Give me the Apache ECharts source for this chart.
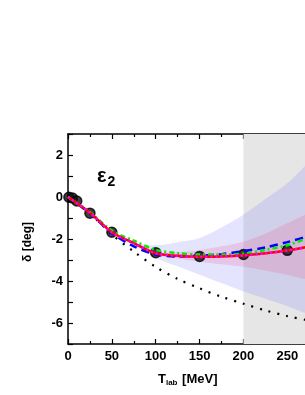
<!DOCTYPE html>
<html><head><meta charset="utf-8">
<script src="https://cdn.jsdelivr.net/npm/echarts@6/dist/echarts.min.js"></script>
<style>html,body{margin:0;padding:0;background:#fff;overflow:hidden}#c{width:345px;height:395px}</style>
</head><body><div id="c"></div>
<script>
// ---- data ----
const xGrid = [0, 25, 50, 75, 100, 125, 150, 175, 200, 225, 250, 275, 300];
const redSolid   = [0, -0.75, -1.68, -2.2, -2.68, -2.8, -2.84, -2.83, -2.78, -2.68, -2.55, -2.36, -2.15];
const magDotted  = [0, -0.75, -1.68, -2.2, -2.68, -2.8, -2.84, -2.83, -2.78, -2.68, -2.55, -2.36, -2.15];
const blueDashed = [0, -0.78, -1.72, -2.35, -2.74, -2.83, -2.8, -2.72, -2.58, -2.4, -2.15, -1.85, -1.5];
const greenDash  = [0, -0.72, -1.6, -2.08, -2.52, -2.67, -2.74, -2.74, -2.7, -2.52, -2.3, -1.92, -1.5];
const blackDot   = [0, -0.78, -1.78, -2.6, -3.33, -3.9, -4.35, -4.75, -5.08, -5.4, -5.67, -5.88, -6.05];
const blueBandLow  = [0, -0.78, -1.72, -2.3, -2.9, -3.3, -3.7, -4.1, -4.5, -4.85, -5.2, -5.6, -6.0];
const blueBandHigh = [0, -0.76, -1.66, -2.15, -2.3, -2.15, -1.95, -1.45, -0.85, -0.1, 0.65, 1.7, 2.9];
const pinkBandLow  = [0, -0.75, -1.68, -2.22, -2.75, -2.93, -3.08, -3.2, -3.32, -3.5, -3.71, -3.95, -4.2];
const pinkBandHigh = [0, -0.75, -1.68, -2.18, -2.62, -2.62, -2.52, -2.35, -2.13, -1.75, -1.25, -0.75, -0.2];
const pwaX = [1, 5, 10, 25, 50, 100, 150, 200, 250];
const pwaY = [-0.01, -0.05, -0.19, -0.77, -1.68, -2.65, -2.83, -2.74, -2.54];
const xTicks = [0, 50, 100, 150, 200, 250, 300];
const yTicks = [-6, -4, -2, 0, 2];
const shadeFrom = 200, shadeTo = 300;

const pairs = (ys) => xGrid.map((x, i) => [x, ys[i]]);
const F = '"Liberation Sans", Arial, sans-serif';

function bandSeries(lo, hi, color, z) {
  return {
    type: 'custom', z: z, silent: true, data: [[xGrid[0], lo[0]]],
    renderItem: (params, api) => {
      const top = xGrid.map((x, i) => api.coord([x, hi[i]]));
      const bot = xGrid.map((x, i) => api.coord([x, lo[i]])).reverse();
      return {type: 'polygon', shape: {points: top.concat(bot), smooth: 0.3}, style: {fill: color}};
    }
  };
}

const chart = echarts.init(document.getElementById('c'), null, {renderer: 'canvas'});
const axisCommon = {
  type: 'value',
  axisLine: {show: true, onZero: false, lineStyle: {color: '#000', width: 1.5}},
  axisTick: {show: true, inside: true, length: 5, lineStyle: {color: '#000', width: 1.2}},
  minorTick: {show: true, splitNumber: 2, length: 3, lineStyle: {color: '#000', width: 1.2}},
  splitLine: {show: false},
};
chart.setOption({
  animation: false,
  grid: {left: 68, top: 134, width: 264, height: 210, containLabel: false},
  xAxis: [
    Object.assign({}, axisCommon, {
      position: 'bottom', min: xTicks[0], max: xTicks[xTicks.length - 1], interval: 50,
      axisLabel: {color: '#000', fontFamily: F, fontWeight: 'bold', fontSize: 13, margin: 6,
        formatter: v => xTicks.includes(v) ? String(v) : ''}
    }),
    Object.assign({}, axisCommon, {
      position: 'top', min: xTicks[0], max: xTicks[xTicks.length - 1], interval: 50,
      axisLabel: {show: false}
    })
  ],
  yAxis: [
    Object.assign({}, axisCommon, {
      min: -7, max: 3, interval: 1,
      minorTick: {show: false},
      axisLabel: {color: '#000', fontFamily: F, fontWeight: 'bold', fontSize: 13, margin: 5,
        formatter: v => yTicks.includes(v) ? String(v) : ''},
    })
  ],
  graphic: [
    {type: 'text', left: 97, top: 166, z: 100, style: {
      text: '{e|ε}{s|2}', fill: '#000',
      rich: {e: {fontFamily: F, fontWeight: 'bold', fontSize: 20, fill: '#000'},
             s: {fontFamily: F, fontWeight: 'bold', fontSize: 14, fill: '#000', padding: [12, 0, 0, 1]}}
    }},
    {type: 'text', x: 158, y: 371, z: 100, style: {
      text: '{t|T}{s|lab}{t| [MeV]}', fill: '#000',
      rich: {t: {fontFamily: F, fontWeight: 'bold', fontSize: 13, fill: '#000'},
             s: {fontFamily: F, fontWeight: 'bold', fontSize: 8, fill: '#000', padding: [8, 1, 0, 0]}}
    }},
    {type: 'text', x: 28, y: 242, rotation: Math.PI / 2, z: 100, style: {
      text: 'δ [deg]', fill: '#000', fontFamily: F, fontWeight: 'bold', fontSize: 12,
      align: 'center', verticalAlign: 'middle'
    }}
  ],
  series: [
    {type: 'line', z: 1, data: [], symbol: 'none', silent: true,
     markArea: {silent: true, itemStyle: {color: '#e6e6e6'}, data: [[{xAxis: shadeFrom}, {xAxis: shadeTo}]]}},
    bandSeries(blueBandLow, blueBandHigh, 'rgba(120,120,255,0.2)', 2),
    bandSeries(pinkBandLow, pinkBandHigh, 'rgba(230,90,140,0.22)', 3),
    {type: 'line', z: 4, data: pairs(blackDot), symbol: 'none', smooth: 0.3,
     lineStyle: {color: '#000', width: 2.2, type: [2, 7]}},
    {type: 'scatter', z: 5, data: pwaX.map((x, i) => [x, pwaY[i]]), symbol: 'circle', symbolSize: 10,
     itemStyle: {color: '#111', borderColor: '#000', borderWidth: 1.5}},
    {type: 'line', z: 6, data: pairs(blueDashed), symbol: 'none', smooth: 0.3,
     lineStyle: {color: '#0000ff', width: 2.5, type: [8, 5]}},
    {type: 'line', z: 7, data: pairs(greenDash), symbol: 'none', smooth: 0.3,
     lineStyle: {color: '#00ee00', width: 2.5, type: [5, 3, 2, 3]}},
    {type: 'line', z: 8, data: pairs(redSolid), symbol: 'none', smooth: 0.3,
     lineStyle: {color: '#ff0000', width: 2.5}},
    {type: 'line', z: 9, data: pairs(magDotted), symbol: 'none', smooth: 0.3,
     lineStyle: {color: '#ff00ff', width: 2.5, type: [2, 3]}}
  ]
});
</script></body></html>
